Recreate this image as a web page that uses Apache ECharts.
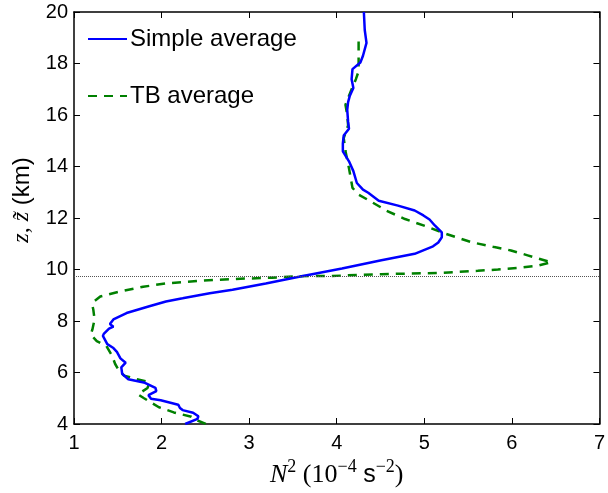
<!DOCTYPE html>
<html>
<head>
<meta charset="utf-8">
<script src="https://cdn.jsdelivr.net/npm/echarts@6/dist/echarts.min.js"></script>
<style>
  html, body { margin: 0; padding: 0; background: #fff; }
  #chart { width: 608px; height: 493px; }
</style>
</head>
<body>
<div id="chart"></div>
<script>
// axis ticks
var xTicks = [1, 2, 3, 4, 5, 6, 7];
var zTicks = [4, 6, 8, 10, 12, 14, 16, 18, 20];

// tropopause height (dotted line), km
var tropopause = 9.75;

// Simple average: [N^2 (1e-4 s^-2), z (km)]
var simpleAvg = [
    [4.31, 20], [4.32, 19.3], [4.34, 18.8], [4.30, 18.3], [4.27, 18.04],
    [4.18, 17.78], [4.17, 17.39], [4.19, 17.05], [4.15, 16.75], [4.13, 16.5],
    [4.12, 16.2], [4.13, 15.74], [4.14, 15.47], [4.08, 15.2], [4.07, 14.9],
    [4.07, 14.59], [4.14, 14.2], [4.19, 13.82], [4.23, 13.36], [4.30, 13.1],
    [4.36, 12.98], [4.48, 12.67], [4.70, 12.48], [4.89, 12.29], [4.99, 12.1],
    [5.06, 11.94], [5.12, 11.71], [5.20, 11.44], [5.20, 11.25], [5.16, 11.05],
    [5.10, 10.9], [4.89, 10.61], [4.51, 10.36], [4.06, 10.04], [3.57, 9.72],
    [3.19, 9.46], [2.81, 9.21], [2.55, 9.08], [2.24, 8.88], [2.05, 8.76],
    [1.86, 8.57], [1.60, 8.31], [1.45, 8.06], [1.41, 7.88], [1.45, 7.78],
    [1.40, 7.70], [1.34, 7.50], [1.33, 7.42], [1.38, 7.10], [1.45, 6.95],
    [1.49, 6.80], [1.53, 6.55], [1.59, 6.38], [1.54, 6.2], [1.55, 5.95],
    [1.62, 5.74], [1.81, 5.6], [1.93, 5.4], [1.94, 5.28], [1.85, 5.12],
    [1.88, 4.98], [1.99, 4.92], [2.19, 4.75], [2.21, 4.62], [2.24, 4.54],
    [2.36, 4.44], [2.42, 4.3], [2.41, 4.2], [2.29, 4.03], [2.27, 4.0]
];

// TB average: [N^2 (1e-4 s^-2), z~ (km)]
var tbAvg = [
    [4.25, 18.85], [4.25, 18.2], [4.25, 17.7], [4.22, 17.4], [4.17, 17.0],
    [4.10, 16.4], [4.12, 16.0], [4.13, 15.6], [4.08, 15.1], [4.10, 14.6],
    [4.14, 13.93], [4.18, 13.17], [4.25, 12.91], [4.38, 12.66], [4.57, 12.28],
    [4.78, 11.96], [5.05, 11.64], [5.25, 11.38], [5.54, 11.06], [5.80, 10.87],
    [5.99, 10.74], [6.18, 10.55], [6.45, 10.28], [6.30, 10.15], [6.07, 10.06],
    [5.84, 10.0], [5.61, 9.95], [5.20, 9.87], [4.51, 9.82], [3.95, 9.75],
    [3.57, 9.74], [3.26, 9.68], [2.81, 9.63], [2.43, 9.56], [2.05, 9.46],
    [1.79, 9.33], [1.52, 9.14], [1.30, 8.95], [1.23, 8.76], [1.21, 8.6],
    [1.22, 8.45], [1.235, 8.06], [1.21, 7.67], [1.19, 7.48], [1.26, 7.22],
    [1.37, 7.03], [1.435, 6.65], [1.47, 6.33], [1.51, 6.1], [1.57, 5.88],
    [1.71, 5.75], [1.86, 5.62], [1.84, 5.4], [1.73, 5.15], [1.80, 5.0],
    [1.97, 4.65], [2.14, 4.45], [2.34, 4.28], [2.40, 4.15], [2.51, 4.0]
];

var chart = echarts.init(document.getElementById('chart'));

var sans = 'Liberation Sans';
var serif = 'Liberation Serif';

function boxAxis(pos, min, max, step) {
    return {
        type: 'value',
        position: pos,
        min: min,
        max: max,
        interval: step,
        axisLine: { show: true, onZero: false, lineStyle: { color: '#000', width: 1.5 } },
        axisTick: { show: true, inside: true, length: 6, lineStyle: { color: '#000', width: 1 } },
        axisLabel: { show: false },
        splitLine: { show: false }
    };
}

var xBottom = boxAxis('bottom', xTicks[0], xTicks[xTicks.length - 1], 1);
xBottom.axisLabel = { show: true, color: '#000', fontSize: 20, fontFamily: sans, margin: 9 };
xBottom.name = '{i|N}{sup|2} {n|(10}{sup|\u22124} {s|s}{sup|\u22122}{n|)}';
xBottom.nameLocation = 'middle';
xBottom.nameGap = 34;
xBottom.nameTextStyle = {
    color: '#000',
    fontSize: 26,
    fontFamily: serif,
    rich: {
        i: { fontFamily: serif, fontStyle: 'italic', fontSize: 26, color: '#000' },
        n: { fontFamily: serif, fontSize: 26, color: '#000' },
        s: { fontFamily: sans, fontSize: 25, color: '#000' },
        sup: { fontFamily: serif, fontSize: 18, color: '#000', padding: [0, 0, 16, 0] }
    }
};

var yLeft = boxAxis('left', zTicks[0], zTicks[zTicks.length - 1], 2);
yLeft.axisLabel = { show: true, color: '#000', fontSize: 20, fontFamily: sans, margin: 6 };
yLeft.name = '{i|z}{n|, }{i|z\u0303}{s| (km)}';
yLeft.nameLocation = 'middle';
yLeft.nameGap = 40;
yLeft.nameRotate = 90;
yLeft.nameTextStyle = {
    color: '#000',
    padding: [0, 0, 0, 36],
    rich: {
        i: { fontFamily: serif, fontStyle: 'italic', fontSize: 24, color: '#000' },
        n: { fontFamily: serif, fontSize: 24, color: '#000' },
        s: { fontFamily: sans, fontSize: 24, color: '#000' }
    }
};

var option = {
    animation: false,
    backgroundColor: '#fff',
    grid: { left: 74, right: 6, top: 12, bottom: 64 },
    legend: {
        data: ['Simple average', 'TB average'],
        orient: 'vertical',
        left: 82,
        top: 22,
        itemWidth: 39,
        itemHeight: 14,
        itemGap: 33,
        itemStyle: { opacity: 0 },
        textStyle: { fontSize: 24, fontFamily: sans, color: '#000', padding: [0, 0, 0, -2] }
    },
    xAxis: [xBottom, boxAxis('top', xTicks[0], xTicks[xTicks.length - 1], 1)],
    yAxis: [yLeft, boxAxis('right', zTicks[0], zTicks[zTicks.length - 1], 2)],
    series: [
        {
            name: 'Simple average',
            type: 'line',
            xAxisIndex: 0,
            yAxisIndex: 0,
            symbol: 'none',
            data: simpleAvg,
            lineStyle: { color: '#0000ff', width: 2.5 },
            itemStyle: { color: '#0000ff' },
            markLine: {
                silent: true,
                symbol: 'none',
                label: { show: false },
                lineStyle: { type: 'dotted', color: '#555', width: 1 },
                data: [{ yAxis: tropopause }]
            },
            z: 3
        },
        {
            name: 'TB average',
            type: 'line',
            xAxisIndex: 0,
            yAxisIndex: 0,
            symbol: 'none',
            data: tbAvg,
            lineStyle: { color: '#008000', width: 2.5, type: [9, 7] },
            itemStyle: { color: '#008000' },
            z: 2
        }
    ]
};

chart.setOption(option);
</script>
</body>
</html>
